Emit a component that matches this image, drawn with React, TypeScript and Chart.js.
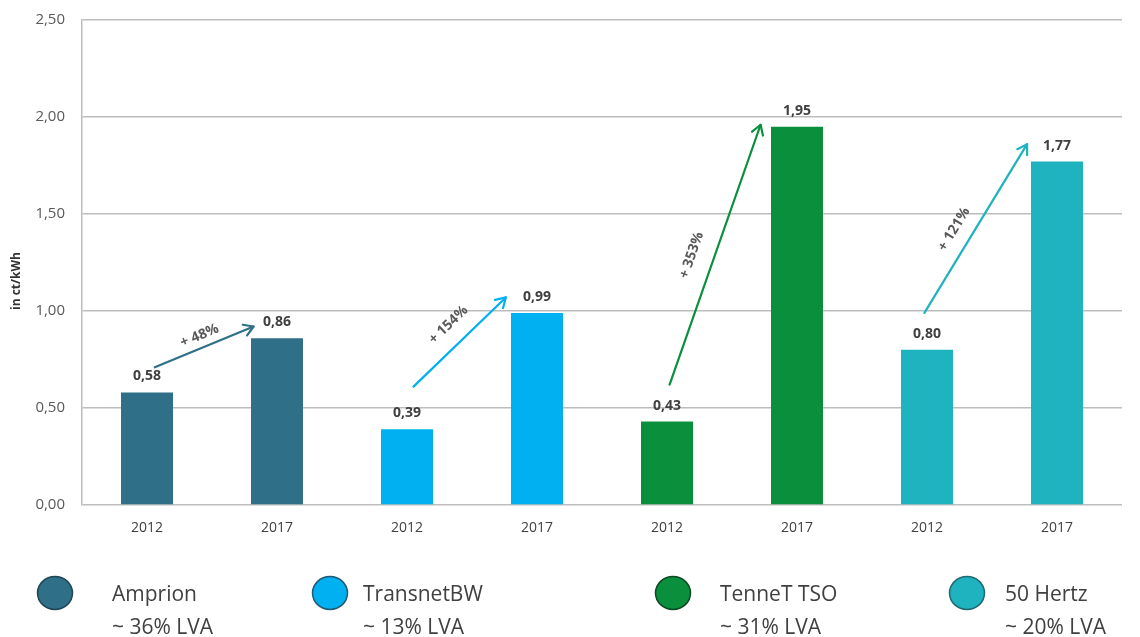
import React, { useEffect, useRef } from "react";
import { Chart, registerables } from "chart.js";

Chart.register(...registerables);

// ---- data ----
const yearLabels = ["2012", "2017", "2012", "2017", "2012", "2017", "2012", "2017"];
const values = [0.58, 0.86, 0.39, 0.99, 0.43, 1.95, 0.8, 1.77];
const companies = ["Amprion", "TransnetBW", "TenneT TSO", "50 Hertz"];
const shares = ["~ 36% LVA", "~ 13% LVA", "~ 31% LVA", "~ 20% LVA"];
const companyColors = ["#2f6f87", "#00b0f0", "#0a8f3d", "#1fb2bf"];
const companyBorders = ["#1f4656", "#1f5a70", "#0b4a23", "#1f6a72"];
const growthLabels = ["+ 48%", "+ 154%", "+ 353%", "+ 121%"];
// arrow start/end in (category index, value) units
const arrowStartIdx = [0.06, 2.05, 4.02, 5.98];
const arrowStartVal = [0.71, 0.61, 0.62, 0.99];
const arrowEndIdx = [0.82, 2.76, 4.72, 6.77];
const arrowEndVal = [0.92, 1.07, 1.96, 1.86];
const growthLabelT = [0.5, 0.53, 0.47, 0.44];
const growthLabelOffset = [12, 20, 22, 18];
const yTicks = [0, 0.5, 1, 1.5, 2, 2.5];

const FONT = "'Open Sans', 'Noto Sans', sans-serif";
const fmt = (v: number) => v.toFixed(2).replace(".", ",");

const barColors = values.map((_, i) => companyColors[Math.floor(i / 2)]);

const overlayPlugin = {
  id: "overlay",
  afterDatasetsDraw(chart: any) {
    const ctx = chart.ctx;
    const xs = chart.scales.x;
    const ys = chart.scales.y;
    const meta = chart.getDatasetMeta(0);
    ctx.save();
    // value labels
    ctx.font = `bold 14px ${FONT}`;
    ctx.fillStyle = "#404040";
    ctx.textAlign = "center";
    ctx.textBaseline = "alphabetic";
    meta.data.forEach((bar: any, i: number) => {
      ctx.fillText(fmt(values[i]), bar.x, bar.y - 12);
    });
    // arrows
    const px = (idx: number) => xs.getPixelForValue(0) + idx * (xs.getPixelForValue(1) - xs.getPixelForValue(0));
    for (let k = 0; k < growthLabels.length; k++) {
      const x1 = px(arrowStartIdx[k]);
      const y1 = ys.getPixelForValue(arrowStartVal[k]);
      const x2 = px(arrowEndIdx[k]);
      const y2 = ys.getPixelForValue(arrowEndVal[k]);
      const a = Math.atan2(y2 - y1, x2 - x1);
      ctx.strokeStyle = companyColors[k];
      ctx.lineWidth = 2.2;
      ctx.lineCap = "round";
      ctx.lineJoin = "round";
      ctx.beginPath();
      ctx.moveTo(x1, y1);
      ctx.lineTo(x2, y2);
      ctx.stroke();
      const hl = 11;
      const ha = 0.55;
      ctx.beginPath();
      ctx.moveTo(x2 - hl * Math.cos(a - ha), y2 - hl * Math.sin(a - ha));
      ctx.lineTo(x2, y2);
      ctx.lineTo(x2 - hl * Math.cos(a + ha), y2 - hl * Math.sin(a + ha));
      ctx.stroke();
      // label
      const t = growthLabelT[k];
      const lx = x1 + (x2 - x1) * t + Math.sin(a) * growthLabelOffset[k];
      const ly = y1 + (y2 - y1) * t - Math.cos(a) * growthLabelOffset[k];
      ctx.save();
      ctx.translate(lx, ly);
      ctx.rotate(a);
      ctx.font = `bold 14px ${FONT}`;
      ctx.fillStyle = "#595959";
      ctx.textAlign = "center";
      ctx.textBaseline = "middle";
      ctx.fillText(growthLabels[k], 0, 0);
      ctx.restore();
    }
    // y title
    ctx.save();
    ctx.translate(17, 281);
    ctx.rotate(-Math.PI / 2);
    ctx.font = `bold 12px ${FONT}`;
    ctx.fillStyle = "#333333";
    ctx.textAlign = "center";
    ctx.textBaseline = "middle";
    ctx.fillText("in ct/kWh", 0, 0);
    ctx.restore();
    // legend
    const legendCx = [55, 330, 673, 967];
    const legendTx = [112, 363, 720, 1005];
    for (let k = 0; k < companies.length; k++) {
      ctx.beginPath();
      ctx.ellipse(legendCx[k], 593, 17.5, 16.5, 0, 0, Math.PI * 2);
      ctx.fillStyle = companyColors[k];
      ctx.fill();
      ctx.lineWidth = 1.5;
      ctx.strokeStyle = companyBorders[k];
      ctx.stroke();
      ctx.font = `21px ${FONT}`;
      ctx.fillStyle = "#404040";
      ctx.textAlign = "left";
      ctx.textBaseline = "alphabetic";
      ctx.fillText(companies[k], legendTx[k], 601);
      ctx.fillText(shares[k], legendTx[k], 634);
    }
    ctx.restore();
  },
};

export default function App() {
  const ref = useRef<HTMLCanvasElement>(null);
  useEffect(() => {
    document.body.style.margin = "0";
    const chart = new Chart(ref.current!, {
      type: "bar",
      data: {
        labels: yearLabels,
        datasets: [
          {
            data: values,
            backgroundColor: barColors,
            borderWidth: 0,
            barPercentage: 0.8,
            categoryPercentage: 0.5,
          },
        ],
      },
      options: {
        responsive: false,
        animation: false,
        layout: { padding: { left: 0, right: 18, top: 20, bottom: 102 } },
        plugins: { legend: { display: false }, tooltip: { enabled: false } },
        scales: {
          x: {
            grid: { display: false, drawTicks: false },
            border: { display: false },
            ticks: { color: "#404040", font: { family: FONT, size: 14 }, padding: 15 },
            afterFit: (s: any) => {
              s.height = 30;
              s.paddingLeft = 0;
              s.paddingRight = 0;
            },
          },
          y: {
            min: 0,
            max: 2.5,
            afterBuildTicks: (s: any) => {
              s.ticks = yTicks.map((v) => ({ value: v }));
            },
            grid: { color: "#bdbdbd", lineWidth: 1.5, drawTicks: false },
            border: { display: true, color: "#bdbdbd", width: 1.5 },
            ticks: {
              color: "#595959",
              font: { family: FONT, size: 15 },
              padding: 17,
              callback: (v: any) => fmt(Number(v)),
            },
            afterFit: (s: any) => {
              s.width = 82;
              s.paddingTop = 0;
              s.paddingBottom = 0;
            },
          },
        },
      },
      plugins: [overlayPlugin],
    });
    return () => chart.destroy();
  }, []);
  return (
    <div style={{ width: 1140, height: 637, background: "#fff" }}>
      <canvas ref={ref} width={1140} height={637} style={{ display: "block" }} />
    </div>
  );
}
